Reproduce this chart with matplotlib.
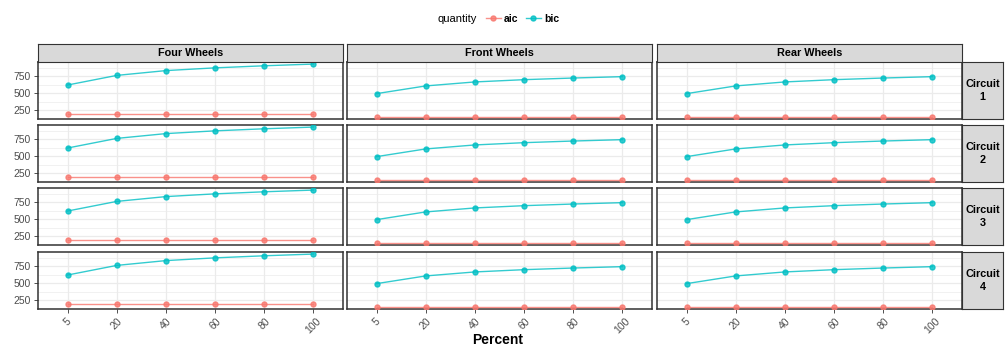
import matplotlib
matplotlib.use("Agg")
import matplotlib.pyplot as plt
from matplotlib.lines import Line2D
import numpy as np

plt.rcParams["font.family"] = ["Liberation Sans", "DejaVu Sans"]

# ---------------- data ----------------
percent = ["5", "20", "40", "60", "80", "100"]
wheels = ["Four Wheels", "Front Wheels", "Rear Wheels"]
circuits = ["Circuit\n1", "Circuit\n2", "Circuit\n3", "Circuit\n4"]

aic_four = [197, 197, 197, 197, 197, 197]
bic_four = [620, 760, 830, 870, 900, 925]
aic_front = [152, 152, 152, 152, 152, 152]
bic_front = [495, 607, 665, 698, 722, 742]
aic_rear = [152, 152, 152, 152, 152, 152]
bic_rear = [495, 607, 665, 698, 722, 742]

aic_by_wheel = [aic_four, aic_front, aic_rear]
bic_by_wheel = [bic_four, bic_front, bic_rear]

y_ticks = [250, 500, 750]
y_minor = [375, 625, 875]

# ---------------- style ----------------
AIC_COL = "#F8766D"
BIC_COL = "#00BFC4"
GRID = "#EBEBEB"
BORDER = "#333333"
STRIP_BG = "#D9D9D9"
TXT = "#4D4D4D"

W, H = 1006, 345
fig = plt.figure(figsize=(W / 100, H / 100), dpi=100)
fig.patch.set_facecolor("white")


def fx(px):
    return px / W


def fy(py):
    return 1 - py / H


col_x = [38, 347, 657]
col_w = 305
row_y = [62, 125, 188, 252]
row_h = 57
strip_top = 44
right_strip_x = 962
right_strip_w = 41

xpos = np.arange(len(percent))

for r in range(4):
    for c in range(3):
        ax = fig.add_axes([fx(col_x[c]), fy(row_y[r] + row_h), col_w / W, row_h / H])
        ax.set_facecolor("white")
        ax.set_xlim(-0.6, len(percent) - 0.4)
        ax.set_ylim(126, 955)
        ax.set_yticks(y_ticks)
        ax.set_yticks(y_minor, minor=True)
        ax.set_xticks(xpos)
        ax.grid(True, which="major", color=GRID, lw=0.9, zorder=0)
        ax.grid(True, which="minor", axis="y", color=GRID, lw=0.5, zorder=0)
        ax.set_axisbelow(True)
        ax.plot(xpos, aic_by_wheel[c], color=AIC_COL, lw=1.0, alpha=0.8,
                marker="o", ms=3.6, mec=AIC_COL, mfc=AIC_COL, zorder=3)
        ax.plot(xpos, bic_by_wheel[c], color=BIC_COL, lw=1.0, alpha=0.8,
                marker="o", ms=3.6, mec=BIC_COL, mfc=BIC_COL, zorder=3)
        for s in ax.spines.values():
            s.set_color(BORDER)
            s.set_linewidth(1.1)
        ax.tick_params(which="minor", length=0)
        ax.tick_params(which="major", length=3, width=0.6, color=BORDER,
                       labelsize=7.5, labelcolor=TXT, pad=2)
        if c == 0:
            ax.set_yticklabels([str(v) for v in y_ticks])
        else:
            ax.tick_params(axis="y", length=0, labelleft=False)
        if r == 3:
            ax.set_xticklabels(percent, rotation=45, ha="center", va="top")
        else:
            ax.tick_params(axis="x", length=0, labelbottom=False)

# top strips
for c in range(3):
    sax = fig.add_axes([fx(col_x[c]), fy(row_y[0]), col_w / W, (row_y[0] - strip_top) / H])
    sax.set_facecolor(STRIP_BG)
    sax.set_xticks([])
    sax.set_yticks([])
    for s in sax.spines.values():
        s.set_color(BORDER)
        s.set_linewidth(0.8)
    sax.text(0.5, 0.5, wheels[c], transform=sax.transAxes, ha="center", va="center",
             fontsize=7.8, fontweight="bold", color="black")

# right strips
for r in range(4):
    sax = fig.add_axes([fx(right_strip_x), fy(row_y[r] + row_h), right_strip_w / W, row_h / H])
    sax.set_facecolor(STRIP_BG)
    sax.set_xticks([])
    sax.set_yticks([])
    for s in sax.spines.values():
        s.set_color(BORDER)
        s.set_linewidth(0.8)
    sax.text(0.5, 0.5, circuits[r], transform=sax.transAxes, ha="center", va="center",
             fontsize=7.8, fontweight="bold", color="black", linespacing=1.3)

# x axis title
fig.text(fx(498), fy(333), "Percent", ha="center", va="top",
         fontsize=10, fontweight="bold", color="black")

# legend
fig.text(fx(438), fy(19), "quantity", ha="left", va="center", fontsize=8, color="black")
handles = [
    Line2D([], [], color=AIC_COL, lw=1.0, alpha=0.8, marker="o", ms=3.6),
    Line2D([], [], color=BIC_COL, lw=1.0, alpha=0.8, marker="o", ms=3.6),
]
fig.legend(handles, ["aic", "bic"], loc="center left",
           bbox_to_anchor=(fx(486), fy(19)), ncol=2, frameon=False,
           prop={"size": 7.5, "weight": "bold"}, handlelength=1.4,
           handletextpad=0.35, columnspacing=0.7, borderaxespad=0, borderpad=0)

fig.savefig("out.png", dpi=100)
